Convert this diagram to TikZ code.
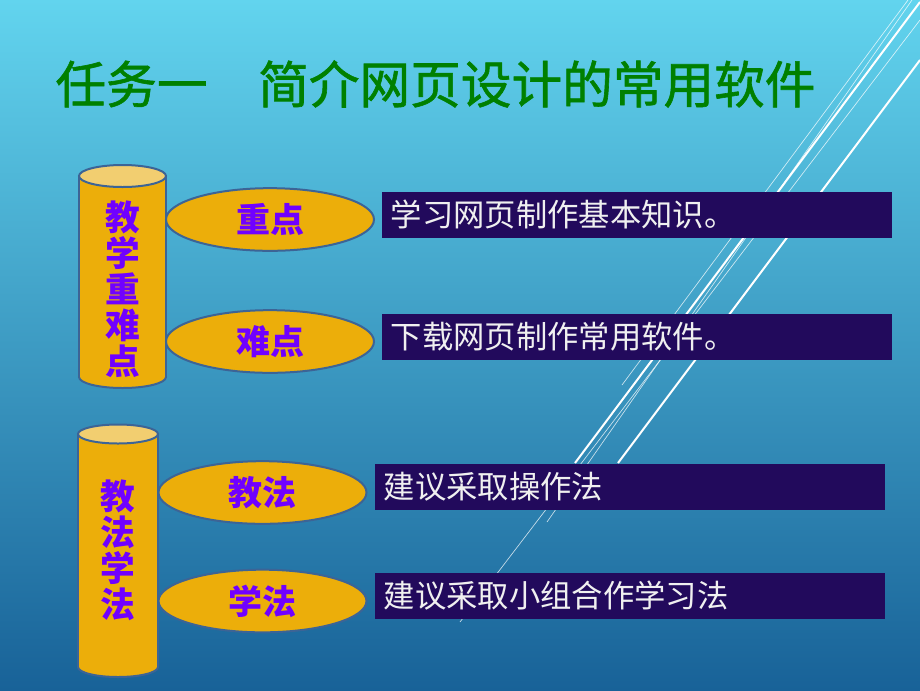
\documentclass[tikz,border=0pt]{standalone}
\usepackage{fontspec}
\usetikzlibrary{shapes.geometric}
\newfontfamily\cjk{Noto Sans CJK SC}
\newfontfamily\cjkhead[FakeBold=1.2]{Noto Sans CJK SC}

\definecolor{skytop}{RGB}{98,212,238}
\definecolor{skymid}{RGB}{64,166,208}
\definecolor{skybot}{RGB}{24,98,152}
\definecolor{canfill}{RGB}{236,174,10}
\definecolor{canlid}{RGB}{242,206,112}
\definecolor{canedge}{RGB}{60,100,150}
\definecolor{tagtext}{RGB}{112,0,255}
\definecolor{boxfill}{RGB}{34,10,92}
\definecolor{titlegreen}{RGB}{0,128,0}

\tikzset{every picture/.style={line width=0.75pt},
  canline/.style={draw=canedge,line width=1.5pt},
  cantext/.style={text=tagtext,align=center,inner sep=0pt,font=\cjk\bfseries\fontsize{26}{27}\selectfont},
  tagoval/.style={ellipse,draw=canedge,line width=1.5pt,fill=canfill,minimum width=156pt,minimum height=47pt,inner sep=0pt,text=tagtext,font=\cjk\bfseries\fontsize{25.5}{26}\selectfont},
  notebox/.style={rectangle,fill=boxfill,anchor=north west,minimum height=35pt,text width=368.5pt,inner xsep=7pt,align=left,text=white!94!black,font=\cjk\fontsize{23.5}{24}\selectfont},
  heading/.style={anchor=west,inner sep=0pt,text=titlegreen,font=\cjkhead\fontsize{38}{40}\selectfont},
  streak/.style={draw=white,line width=1.5pt},
  hairline/.style={draw=white,line width=0.5pt,opacity=0.75}}

\begin{document}
\begin{tikzpicture}[x=0.75pt,y=0.75pt,yscale=-1,xscale=1]
        \useasboundingbox (0,0) rectangle (920,690);
        %Background
        \shade[top color=skytop,middle color=skymid,bottom color=skybot] (0,0) rectangle (920,690);

        %Straight Lines
        \draw[hairline] (908,0) -- (622,385);
        \draw[hairline] (912,0) -- (547,522);
        \draw[streak] (920,2) -- (575,463);
        \draw[hairline] (920,20) -- (460,622);
        \draw[streak] (920,60) -- (618,463);

        %Title
        \node[heading] (title) at (55,84) {任务一　简介网页设计的常用软件};

        %Shape: Can [id:keys]
        \draw[canline,fill=canfill] (122.5,377) ellipse (43.5 and 11);
        \fill[canfill] (79,176) rectangle (166,377);
        \draw[canline] (79,176) -- (79,377) (166,176) -- (166,377);
        \draw[canline,fill=canlid] (122.5,176) ellipse (43.5 and 11);
        \node[cantext] (keys) at (122.5,289) {教\\学\\重\\难\\点};

        %Shape: Can [id:methods]
        \draw[canline,fill=canfill] (118,667) ellipse (40 and 10);
        \fill[canfill] (78,434) rectangle (158,667);
        \draw[canline] (78,434) -- (78,667) (158,434) -- (158,667);
        \draw[canline,fill=canlid] (118,434) ellipse (40 and 9.5);
        \node[cantext] (methods) at (118,550) {教\\法\\学\\法};

        %Shape: Ellipse
        \node[tagoval] (focus) at (270,219.5) {重点};
        \node[tagoval] (hard) at (270,341.5) {难点};
        \node[tagoval] (teach) at (262.5,492.5) {教法};
        \node[tagoval] (learn) at (262.5,601) {学法};

        %Shape: Rectangle
        \node[notebox] (focusnote) at (381,191) {学习网页制作基本知识。};
        \node[notebox] (hardnote) at (381,313) {下载网页制作常用软件。};
        \node[notebox] (teachnote) at (374,463) {建议采取操作法};
        \node[notebox] (learnnote) at (374,572) {建议采取小组合作学习法};

\end{tikzpicture}
\end{document}
